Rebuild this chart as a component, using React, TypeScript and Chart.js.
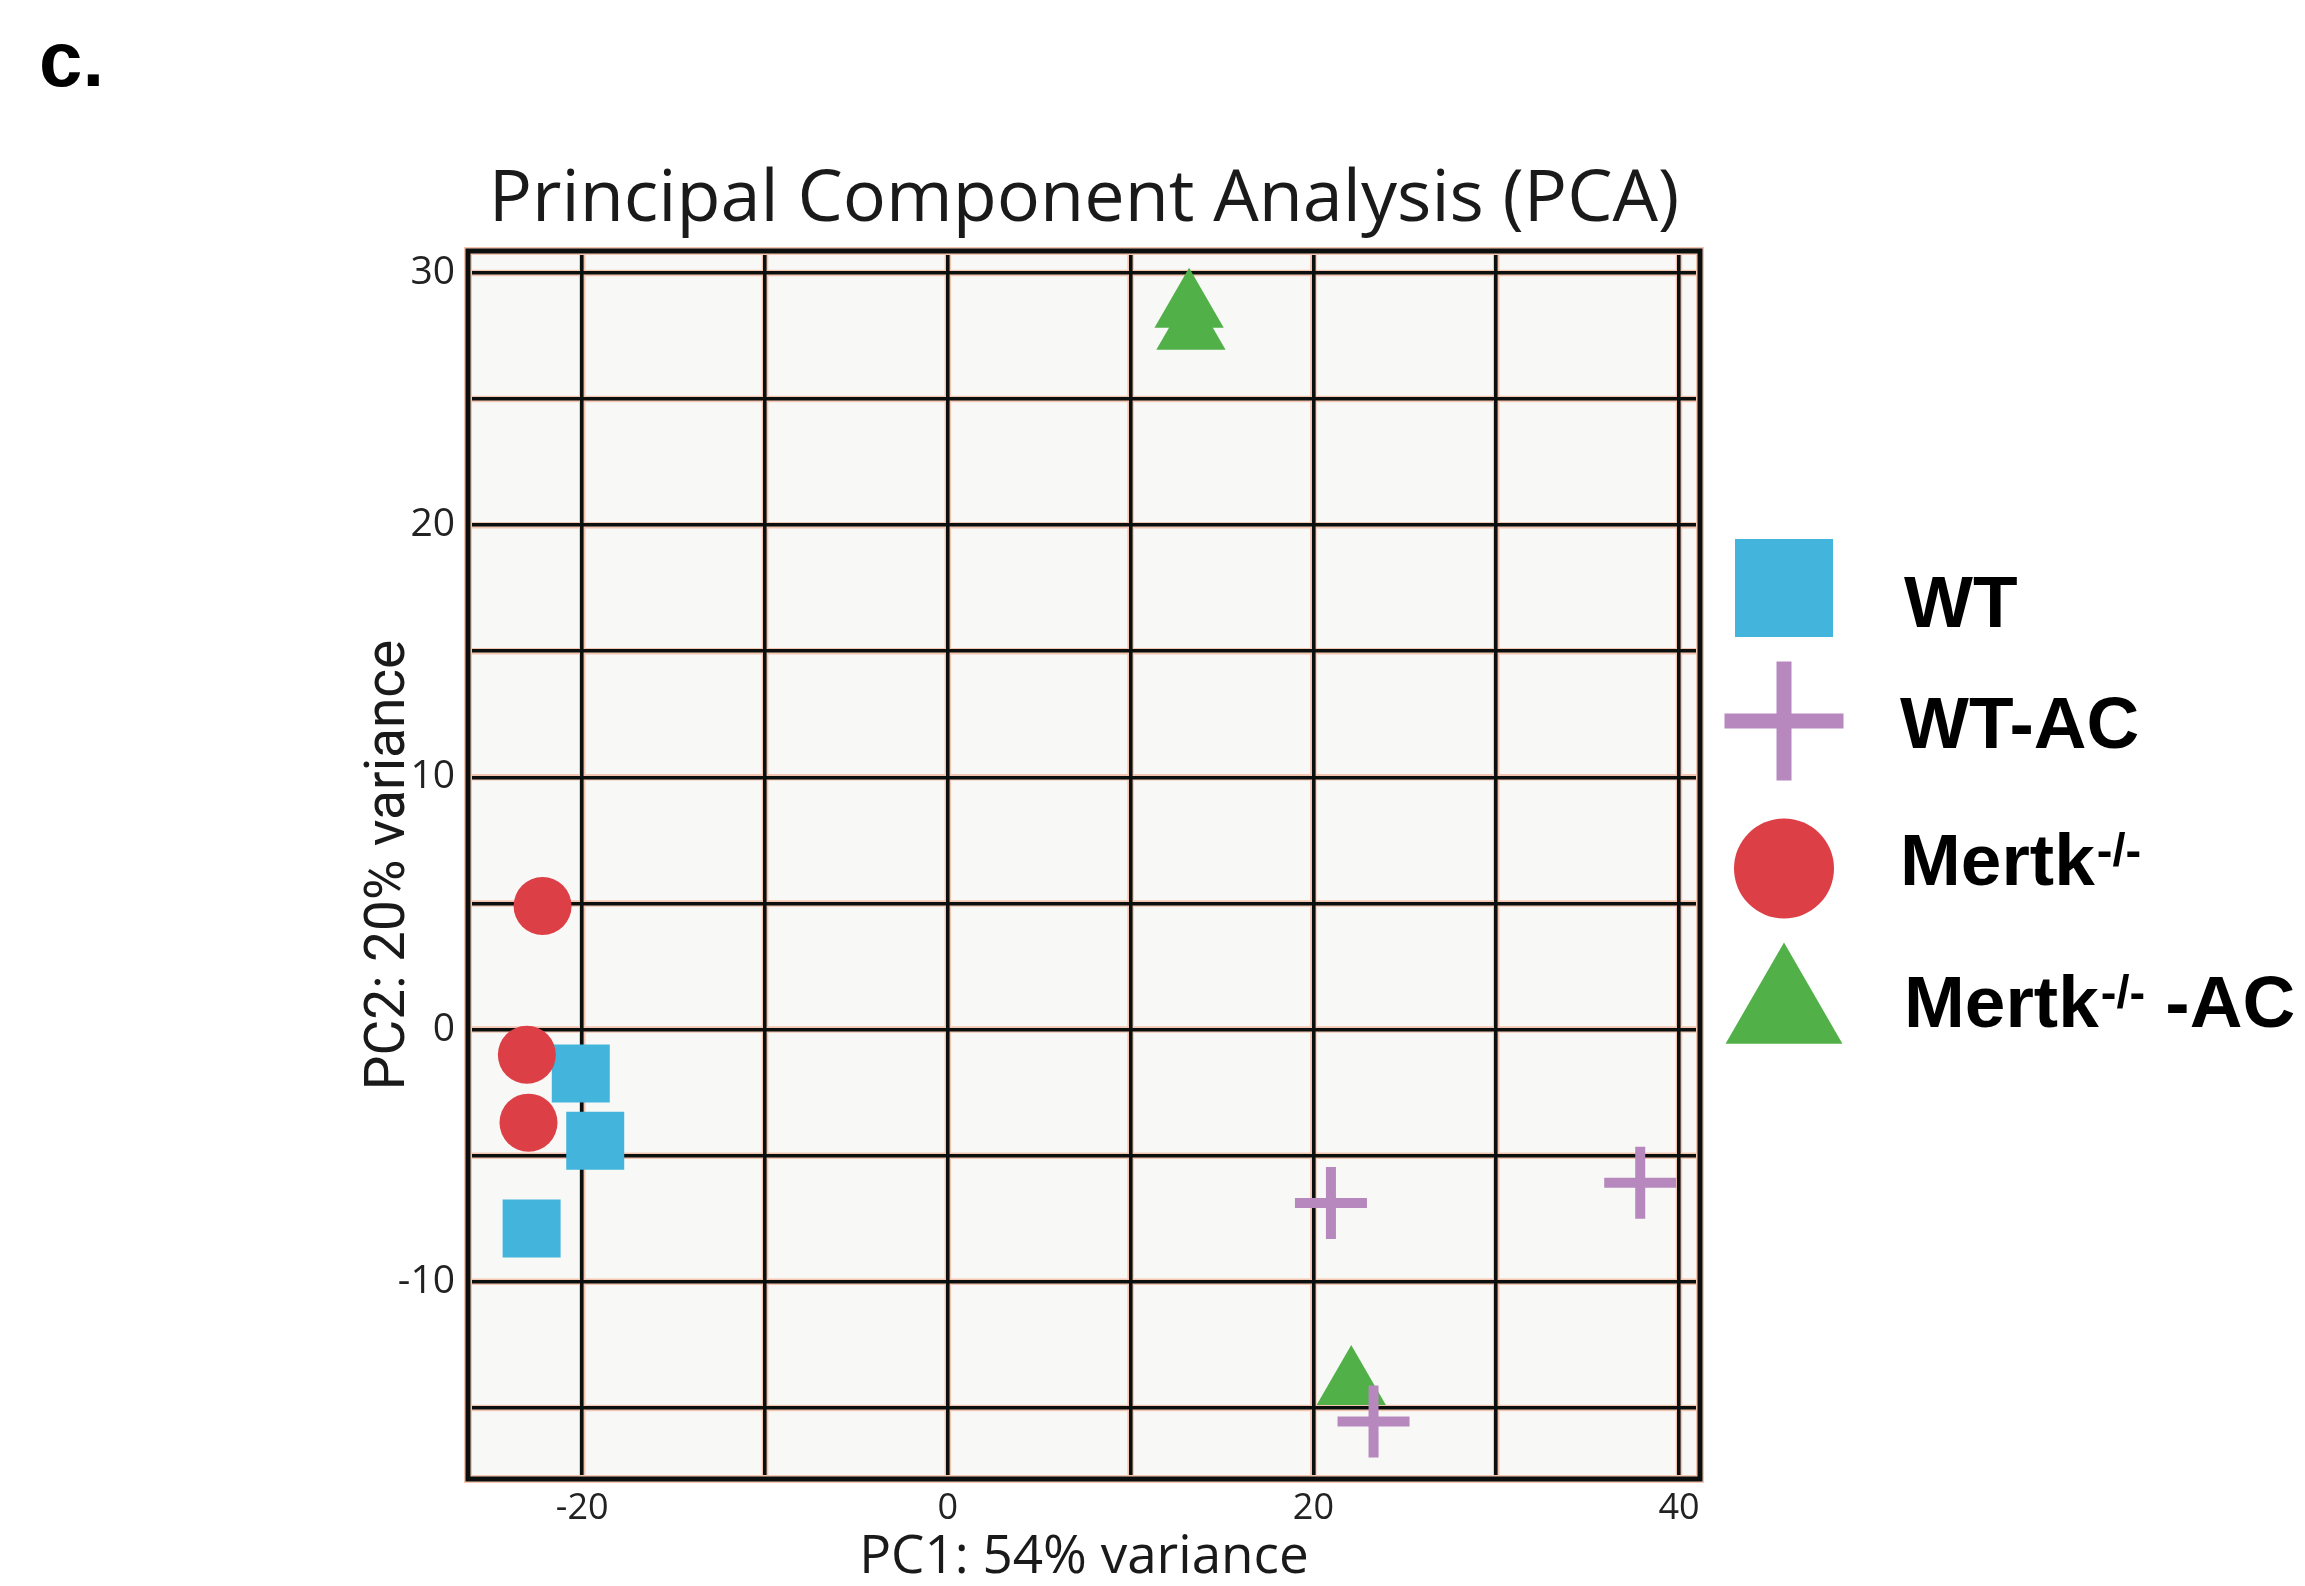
import React, { useEffect, useRef } from 'react';
import { Chart, registerables } from 'chart.js';

Chart.register(...registerables);

// ---- data ----
const seriesNames = ['WT', 'WT-AC', 'Mertk-/-', 'Mertk-/- -AC'];
const wtX = [-20.08, -19.29, -22.77];
const wtY = [-1.74, -4.41, -7.89];
const wtAcX = [20.96, 37.88, 23.29];
const wtAcY = [-6.88, -6.07, -15.54];
const mertkX = [-22.17, -23.03, -22.94];
const mertkY = [4.9, -1.0, -3.69];
const mertkAcX = [13.2, 13.3, 22.07];
const mertkAcY = [28.62, 27.75, -14.09];
const xTickLabels = [-20, 0, 20, 40];
const yTickLabels = [-10, 0, 10, 20, 30];
const legendMain = ['WT', 'WT-AC', 'Mertk', 'Mertk'];
const legendSup = ['', '', '-/-', '-/-'];
const legendAfter = ['', '', '', ' -AC'];

const COLORS = {
  wt: '#43b4dc',
  wtAc: '#b688be',
  mertk: '#dc3f45',
  mertkAc: '#52b049',
};

const pts = (xs: number[], ys: number[]) => xs.map((x, i) => ({ x, y: ys[i] }));

const decorPlugin = {
  id: 'pcaDecor',
  beforeDraw(chart: any) {
    const { ctx, chartArea: a, scales } = chart;
    ctx.save();
    ctx.fillStyle = '#f8f8f7';
    ctx.fillRect(a.left, a.top, a.right - a.left, a.bottom - a.top);
    // salmon halo under grid lines
    ctx.strokeStyle = '#f4c6b2';
    ctx.lineWidth = 6.5;
    ctx.beginPath();
    for (const t of scales.x.ticks) {
      const px = scales.x.getPixelForValue(t.value);
      ctx.moveTo(px, a.top);
      ctx.lineTo(px, a.bottom);
    }
    for (const t of scales.y.ticks) {
      const py = scales.y.getPixelForValue(t.value);
      ctx.moveTo(a.left, py);
      ctx.lineTo(a.right, py);
    }
    ctx.stroke();
    ctx.restore();
  },
  afterDatasetsDraw(chart: any) {
    const { ctx, chartArea: a } = chart;
    ctx.save();
    ctx.strokeStyle = '#f4c6b2';
    ctx.lineWidth = 8;
    ctx.strokeRect(a.left, a.top, a.right - a.left, a.bottom - a.top);
    ctx.strokeStyle = '#0b100e';
    ctx.lineWidth = 5;
    ctx.strokeRect(a.left, a.top, a.right - a.left, a.bottom - a.top);
    ctx.restore();
  },
  afterDraw(chart: any) {
    const { ctx } = chart;
    ctx.save();
    // panel label
    ctx.fillStyle = '#000';
    ctx.textAlign = 'left';
    ctx.textBaseline = 'alphabetic';
    ctx.font = 'bold 78px "Liberation Sans", Arial, sans-serif';
    ctx.fillText('c.', 39, 86);

    // legend symbols
    const sx = 1784;
    // square
    ctx.fillStyle = COLORS.wt;
    ctx.fillRect(sx - 49, 588 - 49, 98, 98);
    // cross
    ctx.strokeStyle = COLORS.wtAc;
    ctx.lineWidth = 15;
    ctx.beginPath();
    ctx.moveTo(sx, 721 - 59.5);
    ctx.lineTo(sx, 721 + 59.5);
    ctx.moveTo(sx - 59.5, 721);
    ctx.lineTo(sx + 59.5, 721);
    ctx.stroke();
    // circle
    ctx.fillStyle = COLORS.mertk;
    ctx.beginPath();
    ctx.arc(sx, 868.5, 50, 0, Math.PI * 2);
    ctx.fill();
    // triangle
    const r = 67.5;
    const cy = 1010;
    ctx.fillStyle = COLORS.mertkAc;
    ctx.beginPath();
    ctx.moveTo(sx, cy - r);
    ctx.lineTo(sx + r * Math.sin((2 * Math.PI) / 3), cy + r / 2);
    ctx.lineTo(sx - r * Math.sin((2 * Math.PI) / 3), cy + r / 2);
    ctx.closePath();
    ctx.fill();

    // legend texts
    const baselines = [626.7, 748.3, 885, 1026.7];
    const starts = [1904, 1900, 1900, 1904];
    const mainFont = 'bold 73px "Liberation Sans", Arial, sans-serif';
    const supFont = 'bold 47px "Liberation Sans", Arial, sans-serif';
    ctx.fillStyle = '#000';
    for (let i = 0; i < legendMain.length; i++) {
      let x = starts[i];
      const b = baselines[i];
      ctx.font = mainFont;
      ctx.fillText(legendMain[i], x, b);
      x += ctx.measureText(legendMain[i]).width;
      if (legendSup[i]) {
        x += 2;
        ctx.font = supFont;
        ctx.fillText(legendSup[i], x, b - 19);
        x += ctx.measureText(legendSup[i]).width;
      }
      if (legendAfter[i]) {
        ctx.font = mainFont;
        ctx.fillText(legendAfter[i], x, b);
      }
    }
    ctx.restore();
  },
};

export default function App() {
  const ref = useRef<HTMLCanvasElement | null>(null);

  useEffect(() => {
    document.body.style.margin = '0';
    document.body.style.overflow = 'hidden';
    const canvas = ref.current;
    if (!canvas) return;

    const chart = new Chart(canvas, {
      type: 'scatter',
      data: {
        datasets: [
          {
            label: seriesNames[0],
            data: pts(wtX, wtY),
            pointStyle: 'rect',
            pointRadius: 41,
            pointHoverRadius: 41,
            backgroundColor: COLORS.wt,
            borderColor: COLORS.wt,
            borderWidth: 0,
            order: 2,
          },
          {
            label: seriesNames[1],
            data: pts(wtAcX, wtAcY),
            pointStyle: 'cross',
            pointRadius: 36,
            pointHoverRadius: 36,
            backgroundColor: COLORS.wtAc,
            borderColor: COLORS.wtAc,
            borderWidth: 10,
            pointBorderWidth: 10,
            order: 1,
          },
          {
            label: seriesNames[2],
            data: pts(mertkX, mertkY),
            pointStyle: 'circle',
            pointRadius: 29,
            pointHoverRadius: 29,
            backgroundColor: COLORS.mertk,
            borderColor: COLORS.mertk,
            borderWidth: 0,
            order: 0,
          },
          {
            label: seriesNames[3],
            data: pts(mertkAcX, mertkAcY),
            pointStyle: 'triangle',
            pointRadius: 40,
            pointHoverRadius: 40,
            backgroundColor: COLORS.mertkAc,
            borderColor: COLORS.mertkAc,
            borderWidth: 0,
            order: 3,
          },
        ],
      },
      options: {
        animation: false,
        responsive: false,
        devicePixelRatio: 1,
        events: [],
        layout: { padding: { left: 320, right: 605, top: 0, bottom: 0 } },
        plugins: {
          legend: { display: false },
          tooltip: { enabled: false },
          title: {
            display: true,
            text: 'Principal Component Analysis (PCA)',
            fullSize: false,
            color: '#1a1a1a',
            font: { family: '"Open Sans", sans-serif', size: 72, weight: 'normal' },
            padding: { top: 157, bottom: 7.6 },
          },
        },
        scales: {
          x: {
            type: 'linear',
            min: -26.25,
            max: 41.15,
            afterFit: (s: any) => {
              s.height = 107;
            },
            border: { display: false },
            grid: { color: '#0b100e', lineWidth: 3.6, drawTicks: false },
            ticks: {
              stepSize: 10,
              includeBounds: false,
              autoSkip: false,
              maxRotation: 0,
              padding: 8,
              color: '#222',
              font: { family: '"Open Sans", sans-serif', size: 36 },
              callback: (v: any) => (xTickLabels.includes(Number(v)) ? String(v) : ''),
            },
            title: {
              display: true,
              text: 'PC1: 54% variance',
              color: '#1a1a1a',
              font: { family: '"Open Sans", sans-serif', size: 53, lineHeight: 1.05 },
              padding: { top: 0, bottom: 0 },
            },
          },
          y: {
            type: 'linear',
            min: -17.82,
            max: 30.87,
            afterFit: (s: any) => {
              s.width = 148;
            },
            border: { display: false },
            grid: { color: '#0b100e', lineWidth: 3.6, drawTicks: false },
            ticks: {
              stepSize: 5,
              includeBounds: false,
              autoSkip: false,
              padding: 13,
              color: '#222',
              font: { family: '"Liberation Sans Narrow", "Open Sans", sans-serif', size: 39 },
              callback: (v: any) => (yTickLabels.includes(Number(v)) ? String(v) : ''),
            },
            title: {
              display: true,
              text: 'PC2: 20% variance',
              color: '#1a1a1a',
              font: { family: 'Roboto, sans-serif', size: 55 },
              padding: { top: 37, bottom: 0 },
            },
          },
        },
      },
      plugins: [decorPlugin],
    } as any);

    let alive = true;
    if ((document as any).fonts && (document as any).fonts.ready) {
      (document as any).fonts.ready.then(() => {
        if (alive) chart.update();
      });
    }

    return () => {
      alive = false;
      chart.destroy();
    };
  }, []);

  return (
    <div style={{ width: 2305, height: 1586, position: 'relative', background: '#fff' }}>
      <canvas ref={ref} width={2305} height={1586} style={{ display: 'block', width: 2305, height: 1586 }} />
    </div>
  );
}
